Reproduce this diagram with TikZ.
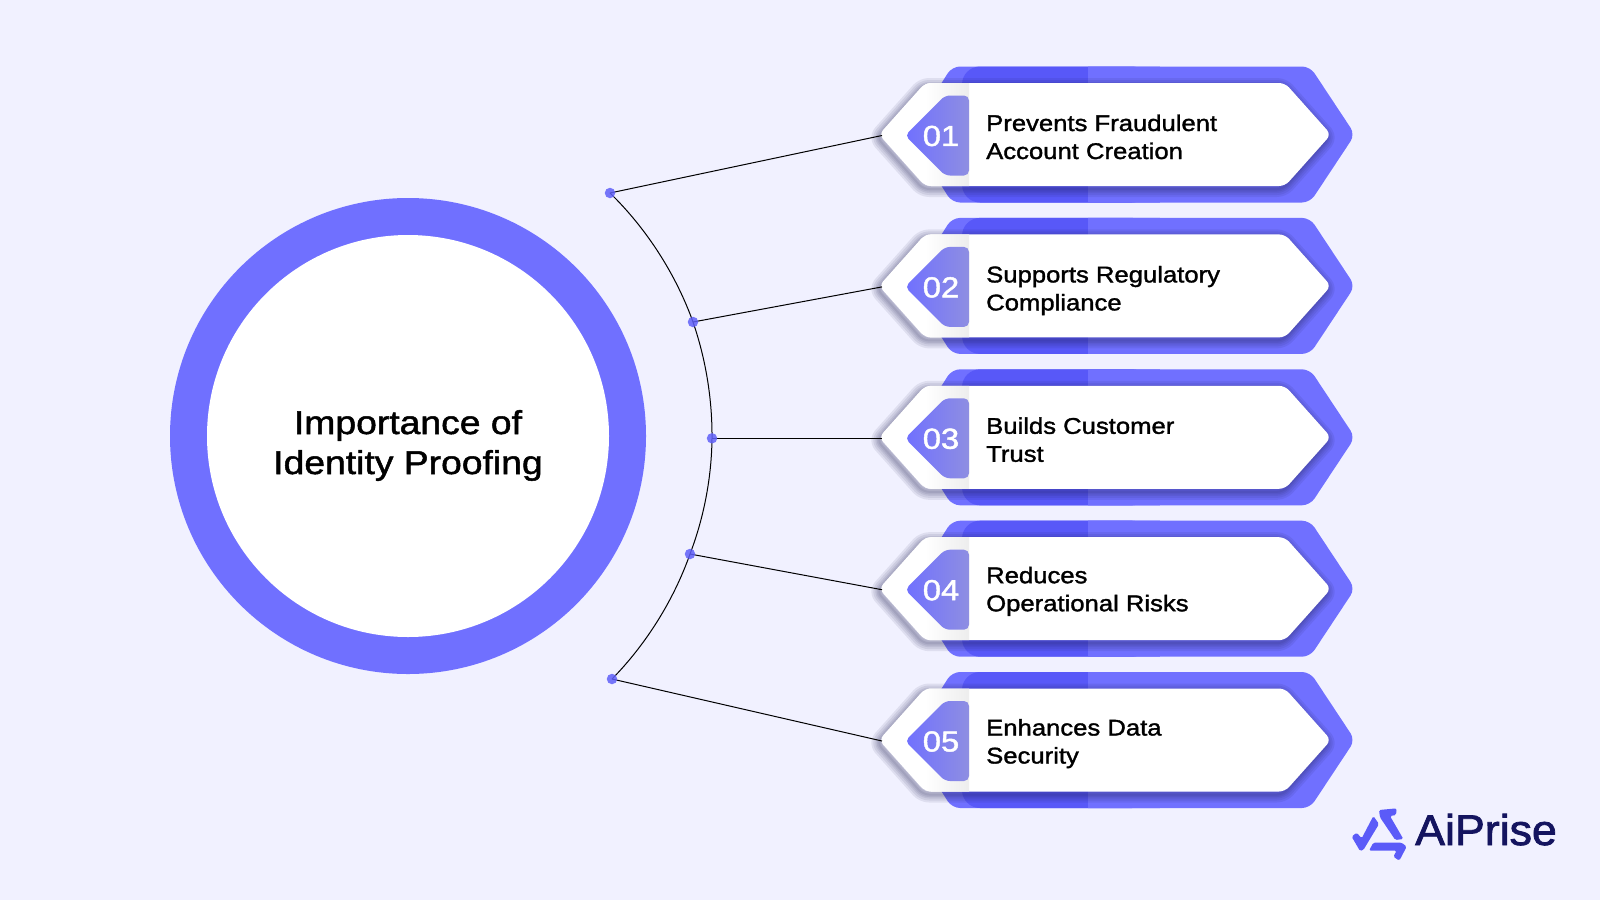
\documentclass[tikz,border=0pt]{standalone}
\usepackage{fontspec}
\setmainfont{Liberation Sans}
\newfontfamily\medf[FakeBold=1.5,FakeStretch=1.13]{Liberation Sans}
\newfontfamily\logof[FakeBold=1.8,FakeStretch=1.04]{Liberation Sans}
\definecolor{bgc}{HTML}{F1F1FF}
\definecolor{ring}{HTML}{7070FF}
\definecolor{deep}{HTML}{5858F8}
\definecolor{dotc}{HTML}{6060F8}
\definecolor{logoc}{HTML}{5B5BF8}
\definecolor{logot}{HTML}{14145F}
\definecolor{shad}{HTML}{1C1C50}
\tikzset{
  x=1pt,y=-1pt,
  dotn/.style={circle,fill=dotc,fill opacity=.85,minimum size=10.5pt,inner sep=0pt},
  link/.style={draw=black,line width=1pt},
  itemtext/.style={anchor=base west,inner sep=0pt,text=black,font=\medf\fontsize{22.7}{28}\selectfont},
  numtext/.style={inner sep=0pt,text=white,font=\medf\fontsize{29}{31}\selectfont},
  titletext/.style={anchor=base,inner sep=0pt,text=black,font=\medf\fontsize{33}{40}\selectfont},
  logopart/.style={fill=logoc,rounded corners=1.5pt},
}
\newcommand{\whitehex}{(879,0) -- (925,-51.5) -- (1285,-51.5) -- (1331,0) -- (1285,51.5) -- (925,51.5) -- cycle}
\newcommand{\bluehex}{(909,0) -- (952,-68) -- (1310,-68) -- (1355,0) -- (1310,68) -- (952,68) -- cycle}
\newcommand{\taghex}{(905,1) -- (945,-39) -- (969,-39) -- (969,41) -- (945,41) -- cycle}
\begin{document}
\begin{tikzpicture}
\useasboundingbox (0,0) rectangle (1600,900);
\fill[bgc] (0,0) rectangle (1600,900);

% central circle
\node[circle,fill=ring,minimum size=476pt,inner sep=0pt] (outer) at (408,436) {};
\node[circle,fill=white,minimum size=402pt,inner sep=0pt] (inner) at (408,436) {};
\node[titletext] (t1) at (408,434) {Importance of};
\node[titletext] (t2) at (408,474) {Identity Proofing};

% banners
\foreach \n/\yy/\dy/\la/\lb in {
  1/134.5/0/Prevents Fraudulent/Account Creation,
  2/285.9/0/Supports Regulatory/Compliance,
  3/437.3/0/Builds Customer/Trust,
  4/588.7/-2/Reduces/Operational Risks,
  5/740/-1/Enhances Data/Security}{
  \begin{scope}[yshift=-\yy pt]
    \fill[ring,rounded corners=8pt] \bluehex;
    \begin{scope}
      \clip[rounded corners=8pt] \bluehex;
      \fill[deep,rounded corners=18pt] (962,-68) rectangle (1150,68);
      \fill[ring] (1088,-70) rectangle (1160,70);
    \end{scope}
    \foreach \w in {16,12,8,5,2}{
      \draw[shad,opacity=.085,line width=\w pt,line join=round,rounded corners=6pt,shift={(-2,3)}] \whitehex;
    }
    \fill[white,rounded corners=6pt] \whitehex;
    \begin{scope}
      \clip[rounded corners=6pt] \whitehex;
      \shade[left color=white,right color=black!7] (925,-52) rectangle (969,52);
    \end{scope}
    \shade[left color=ring,right color={rgb,255:red,142;green,142;blue,226},rounded corners=5pt] \taghex;
    \node[numtext] (num\n) at (941,1.5) {0\n};
    \node[itemtext] (la\n) at (986,-3.5+\dy) {\la};
    \node[itemtext] (lb\n) at (986,24.5+\dy) {\lb};
    \coordinate (tip\n) at (882,1);
  \end{scope}
}

% connectors
\coordinate (p1) at (610,193);
\coordinate (p2) at (693,322);
\coordinate (p3) at (712,438.3);
\coordinate (p4) at (690,554);
\coordinate (p5) at (612,679);
\draw[link] (p1) to[bend left=13,looseness=.85] (p2)
            to[bend left=9.75,looseness=.85] (p3)
            to[bend left=10.15,looseness=.85] (p4)
            to[bend left=12.5,looseness=.85] (p5);
\foreach \n in {1,...,5}{\draw[link] (p\n) -- (tip\n);}
\foreach \n in {1,...,5}{\node[dotn] (d\n) at (p\n) {};}

% logo
\begin{scope}[shift={(1330,790)},x=0.3333pt,y=-0.3333pt]
  \fill[logopart] (147,60) -- (200,55) -- (198,75) -- (180,78) -- (220,147) -- (196,150) -- (150,82) -- cycle;
  \fill[logopart] (65,140) -- (80,128) -- (95,145) -- (130,78) -- (147,102) -- (100,180) -- (90,183) -- cycle;
  \fill[logopart] (130,158) -- (215,158) -- (230,170) -- (208,212) -- (190,200) -- (200,182) -- (117,182) -- cycle;
\end{scope}
\node[anchor=base west,inner sep=0pt,text=logot,font=\logof\fontsize{43}{43}\selectfont] (logo) at (1415,845) {AiPrise};
\end{tikzpicture}
\end{document}
